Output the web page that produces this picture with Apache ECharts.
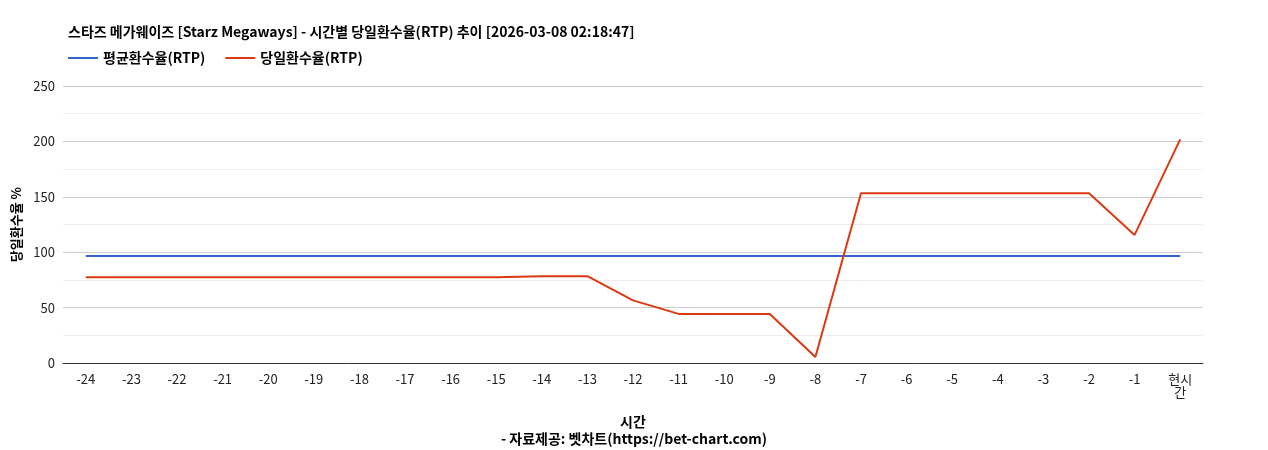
<!DOCTYPE html>
<html><head><meta charset="utf-8">
<script src="https://cdn.jsdelivr.net/npm/echarts@6/dist/echarts.min.js"></script>
<style>html,body{margin:0;padding:0;background:#fff}#c{width:1268px;height:450px}</style>
</head><body><div id="c"></div>
<script>
const categories = ['-24','-23','-22','-21','-20','-19','-18','-17','-16','-15','-14','-13','-12','-11','-10','-9','-8','-7','-6','-5','-4','-3','-2','-1','현시간'];
const avgRtp = [96.5,96.5,96.5,96.5,96.5,96.5,96.5,96.5,96.5,96.5,96.5,96.5,96.5,96.5,96.5,96.5,96.5,96.5,96.5,96.5,96.5,96.5,96.5,96.5,96.5];
const dayRtp = [77.5,77.5,77.5,77.5,77.5,77.5,77.5,77.5,77.5,77.5,78.4,78.4,56.5,44.3,44.3,44.3,5.4,153.2,153.2,153.2,153.2,153.2,153.2,115.6,201.8];
const F = '"Noto Sans CJK KR","Noto Sans",sans-serif';
const chart = echarts.init(document.getElementById('c'));
chart.setOption({
  animation:false,
  textStyle:{fontFamily:F},
  title:[{text:'스타즈 메가웨이즈 [Starz Megaways] - 시간별 당일환수율(RTP) 추이 [2026-03-08 02:18:47]',left:63,top:20,textStyle:{fontSize:14,fontWeight:'bold',color:'#000',fontFamily:F}},
    {text:'- 자료제공: 벳차트(https://bet-chart.com)',left:'center',top:427,textStyle:{fontSize:14,fontWeight:'bold',color:'#000',fontFamily:F}}],
  legend:{left:63,top:46,itemWidth:30,itemHeight:2,icon:'rect',itemGap:20,textStyle:{fontSize:14,fontWeight:'bold',color:'#000',fontFamily:F},data:['평균환수율(RTP)','당일환수율(RTP)']},
  grid:{left:63,right:65,top:86,bottom:87},
  xAxis:{type:'category',data:categories,boundaryGap:true,name:'시간',nameLocation:'middle',nameGap:52,
    nameTextStyle:{fontSize:14,fontWeight:'bold',color:'#000'},
    axisLine:{lineStyle:{color:'#333'}},axisTick:{show:false},
    axisLabel:{color:'#222',fontSize:13,interval:0,margin:10,formatter:v=>v==='현시간'?'현시\n간':v}},
  yAxis:{type:'value',min:0,max:250,interval:50,name:'당일환수율 %',nameLocation:'middle',nameGap:30,
    nameTextStyle:{fontSize:13,fontWeight:'bold',color:'#000'},
    axisLabel:{color:'#222',fontSize:13},axisLine:{show:false},axisTick:{show:false},
    splitLine:{lineStyle:{color:'#ccc'}},minorTick:{show:false,splitNumber:2},minorSplitLine:{show:true,lineStyle:{color:'#eee'}}},
  series:[
    {name:'평균환수율(RTP)',type:'line',data:avgRtp,symbol:'none',lineStyle:{color:'#3366cc',width:2},itemStyle:{color:'#3366cc'}},
    {name:'당일환수율(RTP)',type:'line',data:dayRtp,symbol:'none',lineStyle:{color:'#dc3912',width:2},itemStyle:{color:'#dc3912'}}
  ]
});
</script></body></html>
